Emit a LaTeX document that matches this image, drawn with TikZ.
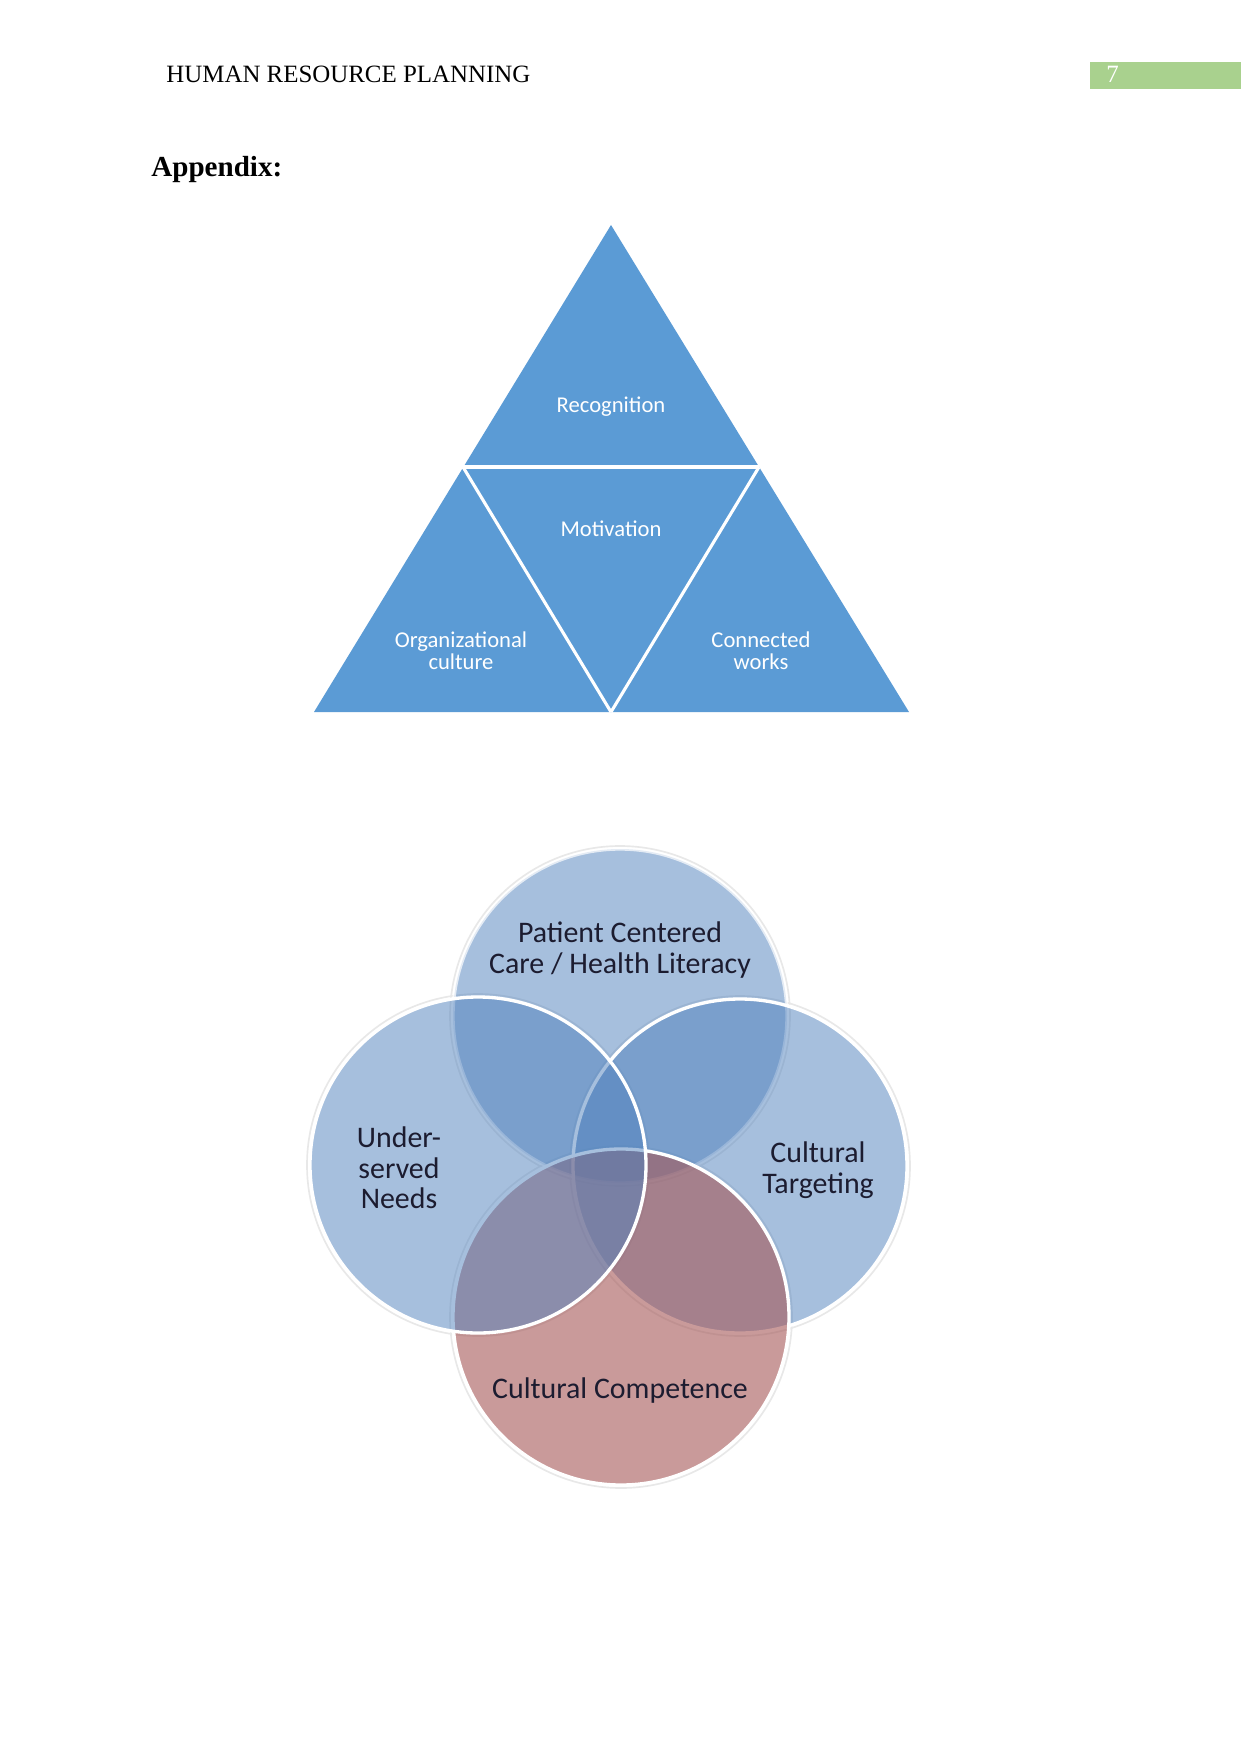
\documentclass[tikz,border=0pt]{standalone}
\usepackage{fontspec}
\setmainfont{Liberation Serif}
\newfontfamily\calib{Carlito}
\definecolor{triblue}{HTML}{5B9BD5}
\definecolor{vblue}{HTML}{4F81BD}
\definecolor{vred}{RGB}{165,87,87}
\definecolor{hdrgreen}{HTML}{A9D18E}
\definecolor{vtext}{HTML}{1C1C30}
\tikzset{
  tritext/.style={text=white, font=\calib\fontsize{10.9}{10.5}\selectfont, align=center, inner sep=0pt},
  venntext/.style={text=vtext, font=\calib\fontsize{14.4}{14.8}\selectfont, align=center, inner sep=0pt},
  sepline/.style={draw=white, line width=1.5pt},
  bluecirc/.style={fill=vblue, fill opacity=0.5},
  redcirc/.style={fill=vred, fill opacity=0.6},
  rim/.style={draw=white, line width=1.6pt},
  glow/.style={draw=black!9, line width=0.8pt}
}
\begin{document}
\begin{tikzpicture}[x=0.4818pt,y=-0.4818pt]
\useasboundingbox (0,0) rectangle (1241,1754);
\fill[white] (0,0) rectangle (1241,1754);

% header
\node[anchor=base west, inner sep=0pt, font=\fontsize{12}{14}\selectfont] (hdr) at (166,83) {HUMAN RESOURCE PLANNING};
\fill[hdrgreen] (1090,62) rectangle (1241,89);
\node[anchor=base west, inner sep=0pt, text=white, font=\fontsize{12}{14}\selectfont] (pnum) at (1106,83) {7};
\node[anchor=base west, inner sep=0pt, font=\bfseries\fontsize{14}{16}\selectfont] (app) at (151,177) {Appendix:};

% triangle diagram
\coordinate (apex) at (611,225);
\coordinate (bl) at (314,712);
\coordinate (br) at (909,712);
\coordinate (ml) at (463,467);
\coordinate (mr) at (759,467);
\coordinate (bm) at (611,712);
\fill[triblue] (apex) -- (bl) -- (br) -- cycle;
\draw[sepline] (ml) -- (mr);
\draw[sepline] (ml) -- (bm);
\draw[sepline] (mr) -- (bm);
\node[tritext] (recog) at (611,407) {Recognition};
\node[tritext] (motiv) at (611,529) {Motivation};
\node[tritext] (orgc) at (461,651) {Organizational\\culture};
\node[tritext] (connw) at (761,651) {Connected\\works};

% Venn diagram
\coordinate (ctop) at (620,1016);
\coordinate (cright) at (740,1166);
\coordinate (cbot) at (621,1317);
\coordinate (cleft) at (478,1165);
\draw[glow] (ctop) circle[radius=170];
\draw[glow] (cright) circle[radius=170];
\draw[glow] (cbot) circle[radius=171];
\draw[glow] (cleft) circle[radius=171];
\fill[bluecirc] (ctop) circle[radius=167];
\draw[rim, draw opacity=0.7] (ctop) circle[radius=167];
\fill[bluecirc] (cright) circle[radius=167];
\draw[rim] (cright) circle[radius=167];
\fill[redcirc] (cbot) circle[radius=168];
\draw[rim] (cbot) circle[radius=168];
\fill[bluecirc] (cleft) circle[radius=168];
\draw[rim] (cleft) circle[radius=168];

\node[venntext] (pcc) at (620,950) {Patient Centered\\Care / Health Literacy};
\node[venntext] (usn) at (399,1168) {Under-\\served\\Needs};
\node[venntext] (ctg) at (818,1170) {Cultural\\Targeting};
\node[venntext] (ccp) at (620,1391) {Cultural Competence};
\end{tikzpicture}
\end{document}
